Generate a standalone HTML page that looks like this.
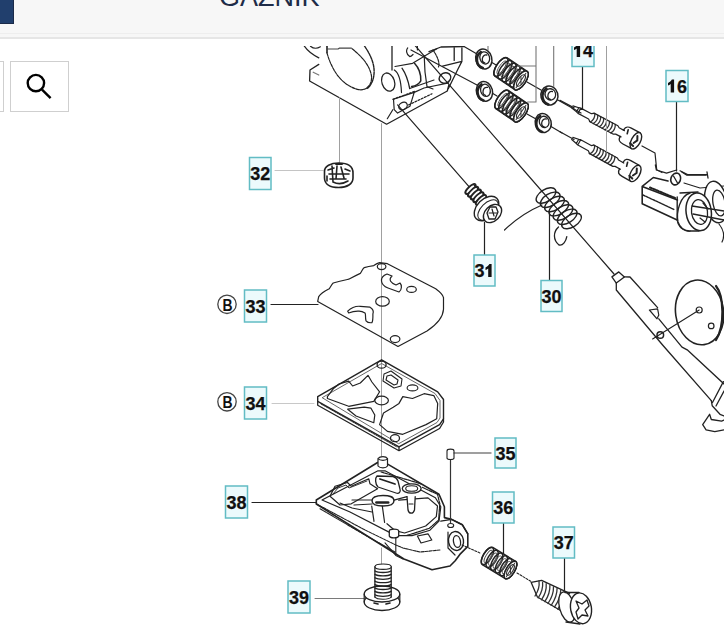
<!DOCTYPE html>
<html><head><meta charset="utf-8">
<style>
html,body{margin:0;padding:0;width:724px;height:639px;overflow:hidden;background:#fff;font-family:"Liberation Sans",sans-serif;}
#hdr{position:absolute;left:0;top:0;width:724px;height:37px;background:#f7f7f7;border-bottom:2px solid #e6e6e6;}
#hl{position:absolute;left:0;top:33px;width:724px;height:1px;background:#eeeeee;}
#navy{position:absolute;left:0;top:0;width:13px;height:23px;background:#213f6d;border-right:1px solid #1b2a48;border-bottom:1px solid #1b2a48;}
#title{position:absolute;left:219px;top:-16px;font-size:27px;color:#1e2c48;line-height:27px;}
.btn{position:absolute;top:61px;height:49px;border:1px solid #cfcfcf;background:#fff;}
</style></head><body>
<div id="hdr"></div><div id="hl"></div>
<div id="navy"></div>
<div id="title">GAZNIK</div>
<div class="btn" style="left:-20px;width:22px;"></div>
<div class="btn" style="left:10px;width:57px;"></div>
<svg style="position:absolute;left:0;top:0" width="724" height="639">
<circle cx="35.9" cy="83.1" r="8.2" fill="none" stroke="#000" stroke-width="2.4"/>
<line x1="42" y1="89.6" x2="50.6" y2="98.2" stroke="#000" stroke-width="2.4"/>
</svg>
<svg style="position:absolute;left:0;top:0" width="724" height="639" viewBox="0 0 724 639">
<defs><clipPath id="cl"><rect x="0" y="46" width="724" height="600"/></clipPath></defs>
<g clip-path="url(#cl)">
<g fill="none" stroke="#222" stroke-width="1.2" stroke-linejoin="round" stroke-linecap="round">
<g id="body">
<path d="M304.4,46.2 Q309,53 318.8,57.8" stroke-width="1.3"/>
<path d="M310.5,46.2 Q314.9,50 320.4,46.8" stroke-width="1.2"/>
<path d="M318.8,64.4 L310,70 L309.6,81 L386.6,124.2 L447.3,91 L448.7,85.5" stroke-width="1.3"/>
<path d="M313.2,72.2 L318.8,75" stroke="#777"/>
<path d="M327,46.2 L327,52.8" stroke-width="1.6"/>
<path d="M327,49 L338,49 L339.2,48.2 L351.4,48.2" stroke="#444"/>
<path d="M327,52.8 C330,64 336,76 345,83 C352,88 358,90.5 363,89.6 C369,88 372,83 371.5,76 C370,67 364,58 351.4,48.2" stroke-dasharray="3,1"/>
<path d="M364.6,46.2 C370,54 375,64 374,74 C373.5,80 371,86 367,88.5" stroke-dasharray="3,1" stroke-width="1.4"/>
<path d="M392,46.2 L392,70" stroke-width="1.3"/>
<ellipse cx="388.2" cy="82.1" rx="6.3" ry="9.3" transform="rotate(-18 388.2 82.1)" stroke-width="1.3"/>
<path d="M394.3,70 C399,73 401,80 401.5,92.6" stroke-width="1.2"/>
<path d="M402,68.2 C406,74 408,80 409.7,88.5" stroke-width="1.3"/>
<path d="M395,66.5 L412.6,63.3 L436.8,48.8" stroke-width="1.2"/>
<path d="M414.5,63.3 C419,68 421,74 420.8,80.8 C419,84 415,86 411.6,86.6" stroke-width="1.5"/>
<path d="M409.7,88.5 L434,80" stroke-width="1.2"/>
<path d="M407.7,47.9 C406,50 406,54 409.7,56.6 C411,56.5 412,55.5 413,54.5 M417.4,46.5 L417.4,50" stroke-width="1.2"/>
<path d="M424.2,55.6 L425,72 L427,86.6 L433,89" stroke-width="1.2"/>
<path d="M429,51.7 L441,47 L463.8,46.5 M454.2,47.9 L454.2,60.4 M461.9,47.9 L461.9,60.4 M442.6,66.2 L461.9,61.4 L458,69 L448.4,88.5" stroke-width="1.3"/>
<path d="M433,50 C437,56 440,62 438.5,67" stroke-width="1.2" stroke-dasharray="2.5,1"/>
<ellipse cx="445" cy="78" rx="6" ry="5" transform="rotate(-25 445 78)" stroke-width="1.4"/>
<path d="M393.5,99.3 L414.2,92.4 L410,106.2 L397.6,113.1 L394.2,109.7 Z" stroke-width="1.2"/>
<ellipse cx="403" cy="106" rx="4.5" ry="3.5" transform="rotate(-30 403 106)" stroke-width="1.3"/>
<path d="M392.8,99.3 L415.6,91 M408.7,104.9 L432,93.8" stroke-dasharray="2,1.5"/>
<path d="M387.3,118.7 L392.8,109.7"/>
<path d="M414.2,92.4 L424,88 L448.7,82.8"/>
</g>
<path d="M412,42 L614,274"/>
<path d="M397.6,104.9 L469,186.6"/>
<path d="M464,46.5 L477,54 M491,62 L497,65.5 M527,82 L541,90 M557,99.5 L581,113"/>
<path d="M411,50 L477,85 M492,93 L497,96 M527,114 L536,119 M551,126.5 L562,133"/>
<ellipse cx="483.8" cy="59" rx="8" ry="10" transform="rotate(-15 483.8 59)" stroke-width="1.5" fill="#fff"/>
<path d="M480.8,52 C474.8,56 475.8,66 482.8,68" stroke-width="2.6"/>
<ellipse cx="485.0" cy="58.2" rx="4.8" ry="6.2" transform="rotate(-15 483.8 59)" stroke-width="1.3"/>
<path d="M486.8,55 C481.8,54 480.8,62 484.8,63" stroke-width="1.3"/>
<ellipse cx="484.5" cy="91.4" rx="8" ry="10" transform="rotate(-15 484.5 91.4)" stroke-width="1.5" fill="#fff"/>
<path d="M481.5,84.4 C475.5,88.4 476.5,98.4 483.5,100.4" stroke-width="2.6"/>
<ellipse cx="485.7" cy="90.60000000000001" rx="4.8" ry="6.2" transform="rotate(-15 484.5 91.4)" stroke-width="1.3"/>
<path d="M487.5,87.4 C482.5,86.4 481.5,94.4 485.5,95.4" stroke-width="1.3"/>
<ellipse cx="549.4" cy="95.5" rx="8.5" ry="9.5" transform="rotate(-15 549.4 95.5)" stroke-width="1.5" fill="#fff"/>
<path d="M546.4,88.5 C540.4,92.5 541.4,102.5 548.4,104.5" stroke-width="2.6"/>
<ellipse cx="550.6" cy="94.7" rx="5.3" ry="5.7" transform="rotate(-15 549.4 95.5)" stroke-width="1.3"/>
<path d="M552.4,91.5 C547.4,90.5 546.4,98.5 550.4,99.5" stroke-width="1.3"/>
<ellipse cx="543.2" cy="123" rx="8" ry="9.5" transform="rotate(-15 543.2 123)" stroke-width="1.5" fill="#fff"/>
<path d="M540.2,116 C534.2,120 535.2,130 542.2,132" stroke-width="2.6"/>
<ellipse cx="544.4000000000001" cy="122.2" rx="4.8" ry="5.7" transform="rotate(-15 543.2 123)" stroke-width="1.3"/>
<path d="M546.2,119 C541.2,118 540.2,126 544.2,127" stroke-width="1.3"/>
<g transform="translate(501,67) rotate(34.0)">
<path d="M0,-11 L24.1,-11 A4.6,11 0 0 1 24.1,11 L0,11 A4.6,11 0 0 1 0,-11 Z" fill="#fff" stroke="#222" stroke-width="1.5"/>
<ellipse cx="0.0" cy="0" rx="4.6" ry="10.7" stroke="#222" stroke-width="1.5"/>
<ellipse cx="0.8" cy="0" rx="2.5" ry="7.7" stroke="#555" stroke-width="0.9"/>
<ellipse cx="4.8" cy="0" rx="4.6" ry="10.7" stroke="#222" stroke-width="1.5"/>
<ellipse cx="5.6" cy="0" rx="2.5" ry="7.7" stroke="#555" stroke-width="0.9"/>
<ellipse cx="9.7" cy="0" rx="4.6" ry="10.7" stroke="#222" stroke-width="1.5"/>
<ellipse cx="10.5" cy="0" rx="2.5" ry="7.7" stroke="#555" stroke-width="0.9"/>
<ellipse cx="14.5" cy="0" rx="4.6" ry="10.7" stroke="#222" stroke-width="1.5"/>
<ellipse cx="15.3" cy="0" rx="2.5" ry="7.7" stroke="#555" stroke-width="0.9"/>
<ellipse cx="19.3" cy="0" rx="4.6" ry="10.7" stroke="#222" stroke-width="1.5"/>
<ellipse cx="20.1" cy="0" rx="2.5" ry="7.7" stroke="#555" stroke-width="0.9"/>
<ellipse cx="24.1" cy="0" rx="4.6" ry="10.7" stroke="#222" stroke-width="1.5"/>
<ellipse cx="24.9" cy="0" rx="2.5" ry="7.7" stroke="#555" stroke-width="0.9"/>
<ellipse cx="24.1" cy="0" rx="4.6" ry="11" fill="#fff" stroke="#222" stroke-width="1.5"/>
<ellipse cx="24.1" cy="0" rx="2.8" ry="6.6" stroke="#333" stroke-width="1.2"/>
<path d="M21.8,-3.3 L26.4,3.3 M24.1,-8.8 L24.1,8.8" stroke="#333" stroke-width="1"/>
</g>
<g transform="translate(502,99.5) rotate(34.4)">
<path d="M0,-11 L23.0,-11 A4.6,11 0 0 1 23.0,11 L0,11 A4.6,11 0 0 1 0,-11 Z" fill="#fff" stroke="#222" stroke-width="1.5"/>
<ellipse cx="0.0" cy="0" rx="4.6" ry="10.7" stroke="#222" stroke-width="1.5"/>
<ellipse cx="0.8" cy="0" rx="2.5" ry="7.7" stroke="#555" stroke-width="0.9"/>
<ellipse cx="4.6" cy="0" rx="4.6" ry="10.7" stroke="#222" stroke-width="1.5"/>
<ellipse cx="5.4" cy="0" rx="2.5" ry="7.7" stroke="#555" stroke-width="0.9"/>
<ellipse cx="9.2" cy="0" rx="4.6" ry="10.7" stroke="#222" stroke-width="1.5"/>
<ellipse cx="10.0" cy="0" rx="2.5" ry="7.7" stroke="#555" stroke-width="0.9"/>
<ellipse cx="13.8" cy="0" rx="4.6" ry="10.7" stroke="#222" stroke-width="1.5"/>
<ellipse cx="14.6" cy="0" rx="2.5" ry="7.7" stroke="#555" stroke-width="0.9"/>
<ellipse cx="18.4" cy="0" rx="4.6" ry="10.7" stroke="#222" stroke-width="1.5"/>
<ellipse cx="19.2" cy="0" rx="2.5" ry="7.7" stroke="#555" stroke-width="0.9"/>
<ellipse cx="23.0" cy="0" rx="4.6" ry="10.7" stroke="#222" stroke-width="1.5"/>
<ellipse cx="23.8" cy="0" rx="2.5" ry="7.7" stroke="#555" stroke-width="0.9"/>
<ellipse cx="23.0" cy="0" rx="4.6" ry="11" fill="#fff" stroke="#222" stroke-width="1.5"/>
<ellipse cx="23.0" cy="0" rx="2.8" ry="6.6" stroke="#333" stroke-width="1.2"/>
<path d="M20.7,-3.3 L25.3,3.3 M23.0,-8.8 L23.0,8.8" stroke="#333" stroke-width="1"/>
</g>
<path d="M560.0,100.4 L574.1,107.9"/>
<path d="M572.9,105.9 L578.8,107.7 L580.8,108.1 L591.4,113.7 L593.9,113.3 M571.8,108.0 L576.5,111.9 L578.0,113.4 L588.6,119.0 L589.7,121.3 M578.8,107.7 L576.5,111.9 M580.8,108.1 L578.0,113.4" stroke-width="1.2"/>
<path d="M594.9,113.5 Q595.1,119.1 590.4,122.0" stroke-width="1.3" stroke="#333"/>
<path d="M597.8,115.1 Q598.1,120.6 593.3,123.6" stroke-width="1.3" stroke="#333"/>
<path d="M600.7,116.6 Q601.0,122.2 596.2,125.1" stroke-width="1.3" stroke="#333"/>
<path d="M603.7,118.2 Q603.9,123.7 599.2,126.7" stroke-width="1.3" stroke="#333"/>
<path d="M606.6,119.7 Q606.8,125.3 602.1,128.2" stroke-width="1.3" stroke="#333"/>
<path d="M609.5,121.3 Q609.7,126.8 605.0,129.8" stroke-width="1.3" stroke="#333"/>
<path d="M612.4,122.8 Q612.6,128.4 607.9,131.3" stroke-width="1.3" stroke="#333"/>
<path d="M615.3,124.4 Q615.5,129.9 610.8,132.9" stroke-width="1.3" stroke="#333"/>
<path d="M594.0,113.1 L617.9,125.7 L619.1,127.7 L624.4,130.6 M589.5,121.5 L613.4,134.2 L615.7,134.1 L621.0,136.9" stroke-width="1.2"/>
<path d="M623.5,130.1 C625.6,126.2 627.8,126.3 631.3,128.1 L640.2,132.8 M620.1,136.4 C618.1,140.3 619.3,142.1 622.9,144.0 L631.7,148.7" stroke-width="1.4"/>
<ellipse cx="635.9" cy="140.8" rx="4.5" ry="9" transform="rotate(28.0 635.9 140.8)" stroke-width="1.4" fill="#fff"/>
<path d="M637.4,135.9 L637.3,140.4 L633.6,143.0 M630.1,143.3 L633.1,146.1" stroke-width="2"/>
<path d="M628.2,129.8 L627.2,133.8" stroke-width="1.6"/>
<path d="M560.0,131.7 L574.0,139.5"/>
<path d="M572.8,137.4 L578.7,139.3 L580.7,139.7 L591.2,145.6 L593.7,145.2 M571.7,139.5 L576.3,143.5 L577.8,145.0 L588.3,150.8 L589.3,153.1 M578.7,139.3 L576.3,143.5 M580.7,139.7 L577.8,145.0" stroke-width="1.2"/>
<path d="M594.7,145.4 Q594.8,151.0 590.0,153.8" stroke-width="1.3" stroke="#333"/>
<path d="M597.6,147.0 Q597.7,152.6 592.9,155.4" stroke-width="1.3" stroke="#333"/>
<path d="M600.5,148.6 Q600.6,154.2 595.8,157.0" stroke-width="1.3" stroke="#333"/>
<path d="M603.3,150.2 Q603.5,155.8 598.7,158.6" stroke-width="1.3" stroke="#333"/>
<path d="M606.2,151.8 Q606.4,157.4 601.6,160.2" stroke-width="1.3" stroke="#333"/>
<path d="M609.1,153.4 Q609.2,159.0 604.5,161.8" stroke-width="1.3" stroke="#333"/>
<path d="M612.0,155.0 Q612.1,160.6 607.4,163.4" stroke-width="1.3" stroke="#333"/>
<path d="M614.9,156.6 Q615.0,162.2 610.2,165.0" stroke-width="1.3" stroke="#333"/>
<path d="M593.8,145.0 L617.4,158.0 L618.6,160.1 L623.8,163.0 M589.2,153.4 L612.8,166.4 L615.1,166.4 L620.4,169.3" stroke-width="1.2"/>
<path d="M623.0,162.5 C625.1,158.6 627.3,158.7 630.8,160.7 L639.6,165.5 M619.5,168.8 C617.3,172.6 618.6,174.5 622.1,176.4 L630.9,181.3" stroke-width="1.4"/>
<ellipse cx="635.2" cy="173.4" rx="4.5" ry="9" transform="rotate(29.0 635.2 173.4)" stroke-width="1.4" fill="#fff"/>
<path d="M636.8,168.5 L636.6,173.0 L632.9,175.5 M629.3,175.8 L632.3,178.6" stroke-width="2"/>
<path d="M627.6,162.3 L626.6,166.3" stroke-width="1.6"/>
<path d="M582.5,66 L582.5,109.3"/>
<path d="M676.5,101.5 L676.5,171"/>
<path d="M484.5,222.4 L484.5,255"/>
<path d="M549.5,211.8 L549.5,280.5"/>
<path d="M271,304.5 L318,304.5"/>
<path d="M252,502.5 L318,502.5"/>
<path d="M503.5,523 L503.5,555"/>
<path d="M564.5,558 L564.5,591"/>
<path d="M454,453 L491,453" stroke="#808080" stroke-width="1.4"/>
<path d="M642,146 L655,153 L656.7,169.7 L662,172.5"/>
<path d="M680,170.8 L687.6,174.6 L707,174.6"/>
<path d="M536,46 L536,102 M517.7,66 L536,66 M527.6,102 L536,102" stroke="#777" stroke-width="1.1"/>
<path d="M553.7,46 L553.7,86.5 M488,46 L488,50" stroke="#777" stroke-width="1.1"/>
<g stroke="#a0a0a0" stroke-width="1">
<path d="M339.5,97.7 L339.5,164"/>
<path d="M381.5,123.6 L381.5,458 M381.5,548 L381.5,569"/>
<path d="M275,170.5 L323,170.5" stroke="#c4c4c4"/>
<path d="M272,403.5 L314,403.5" stroke="#c8c8c8"/>
<path d="M315,598.5 L364.2,598.5" stroke="#7a7a7a"/>
<path d="M606.5,46 L606.5,152"/>
</g>
<path d="M324.5,172 C324,166 331,163 338.7,163 C347,163 353,166 353,173 L353,178 C353,184 347,187.5 338.7,187.5 C330,187.5 324.5,184 324.5,178 Z" stroke-width="1.6" fill="#fff"/>
<path d="M328,170 L334,168 M329,174 L349,174 M332,166 L333,182 M337,166 L336,179 M341,167 L344,178 M330,179 L346,179 M333,182 C337,184 343,184 348,181 M345,169 L350,171 M327,176 L327,181" stroke-width="1.6"/>
<path d="M336,164 L342,164" stroke-width="2"/>
<path d="M469,186.6 L472,190"/>
<ellipse cx="470.5" cy="189.0" rx="2.4" ry="6.8" transform="rotate(46.3 470.5 189.0)" stroke="#222" stroke-width="1.8" fill="#fff"/>
<ellipse cx="473.1" cy="191.8" rx="2.4" ry="6.8" transform="rotate(46.3 473.1 191.8)" stroke="#222" stroke-width="1.8" fill="#fff"/>
<ellipse cx="475.8" cy="194.5" rx="2.4" ry="6.8" transform="rotate(46.3 475.8 194.5)" stroke="#222" stroke-width="1.8" fill="#fff"/>
<ellipse cx="478.4" cy="197.2" rx="2.4" ry="6.8" transform="rotate(46.3 478.4 197.2)" stroke="#222" stroke-width="1.8" fill="#fff"/>
<ellipse cx="481.0" cy="200.0" rx="2.4" ry="6.8" transform="rotate(46.3 481.0 200.0)" stroke="#222" stroke-width="1.8" fill="#fff"/>
<path d="M466,193 L476,203 M474,185 L485,195" stroke-width="1.1"/>
<ellipse cx="486.5" cy="208.5" rx="9.5" ry="14.5" transform="rotate(45 486.5 208.5)" stroke-width="1.4" fill="#fff"/>
<ellipse cx="488" cy="210" rx="7" ry="12.5" transform="rotate(45 488 210)" stroke-width="1"/>
<ellipse cx="492.5" cy="213.5" rx="7.5" ry="10.5" transform="rotate(45 492.5 213.5)" stroke-width="1.4" fill="#fff"/>
<path d="M490,207 L496,207 L498,212 L495,219 L489,219 L487,213 Z" stroke-width="1.3"/>
<path d="M492,209 L494,216 M489,213 L497,213" stroke-width="1.2"/>
<path d="M504.5,230 C515,220 528,211 542,205"/>
<ellipse cx="546.0" cy="195.5" rx="11" ry="6" transform="rotate(-32 546.0 195.5)" stroke-width="1.4"/>
<ellipse cx="550.2" cy="199.8" rx="11" ry="6" transform="rotate(-32 550.2 199.8)" stroke-width="1.4"/>
<ellipse cx="554.5" cy="204.0" rx="11" ry="6" transform="rotate(-32 554.5 204.0)" stroke-width="1.4"/>
<ellipse cx="558.8" cy="208.2" rx="11" ry="6" transform="rotate(-32 558.8 208.2)" stroke-width="1.4"/>
<ellipse cx="563.0" cy="212.5" rx="11" ry="6" transform="rotate(-32 563.0 212.5)" stroke-width="1.4"/>
<ellipse cx="567.2" cy="216.8" rx="11" ry="6" transform="rotate(-32 567.2 216.8)" stroke-width="1.4"/>
<ellipse cx="571.5" cy="221.0" rx="11" ry="6" transform="rotate(-32 571.5 221.0)" stroke-width="1.4"/>
<path d="M558.5,227 C553,232 553,240 559,245 C563,246 566,241 566.8,236.6" stroke-width="1.3"/>
<path d="M611.9,276.9 L618.8,271.9 L624.4,276.9 L616.3,283.1 Z" stroke-width="1.3"/>
<path d="M624.4,276.9 L630,277 L657.6,307.6 M616.3,283.1 L616.3,290 L662.6,345 L711.3,400.6" stroke-width="1.3"/>
<path d="M649.4,310 L657.6,308.8 L658.8,315 L657,318.8 Z" stroke-width="1.2"/>
<path d="M658.8,318.8 L682,347.1 L687.2,349.8 L724,384" stroke-width="1.3"/>
<circle cx="660.3" cy="335" r="3.3" stroke-width="1.5"/>
<path d="M652.6,339 L699.2,310" stroke-width="1.1"/>
<ellipse cx="699.6" cy="312.4" rx="24" ry="32.5" transform="rotate(-8 699.6 312.4)" stroke-width="1.6" fill="none"/>
<path d="M716,286 C724,296 725,326 716,340" stroke-width="2.2"/>
<circle cx="699.2" cy="310" r="3" stroke-width="1.2"/><circle cx="711.2" cy="325.9" r="2.8" stroke-width="1.2"/>
<path d="M711.3,400.6 L712.2,405.7 L720,414.3 L724,416 M712.5,402.5 L723.4,381.6 M716,406 L724,391" stroke-width="1.3"/>
<path d="M709.6,414.3 L702.7,424.7 L706.1,429.8 L714.8,431.6 L724,429.8 M709.6,414.3 L711.3,419.5 L721.6,421.2 L724,420" stroke-width="1.3"/>
<path d="M642.2,186.4 L653.3,177.5 L668,181 M642.2,186.4 L677.5,200 M642.2,186.4 L642.2,203.7 L677.2,220" stroke-width="1.6"/>
<path d="M643,195 L674,209.5" stroke-width="1.4" stroke-dasharray="2.5,1"/>
<path d="M650,187.5 L675,198" stroke-width="2" stroke-dasharray="2.2,1.4"/>
<path d="M655.4,165 L656.4,170 L666.5,173.1 L676.7,170 M681.8,172 L686.9,175.2 L706,175.2 M707,172 L708,178" stroke-width="1.3"/>
<path d="M684,183 L700,188 L724,186" stroke-width="1.2"/>
<ellipse cx="716" cy="202" rx="11" ry="21" transform="rotate(-10 716 202)" stroke-width="1.4" fill="#fff"/>
<ellipse cx="719" cy="203" rx="6" ry="13" transform="rotate(-10 719 203)" stroke-width="1.3"/>
<path d="M677.2,197 L677.2,220 C678,226 682,230 688,231 L699,231 M680,193 L698,192" stroke-width="1.4"/>
<path d="M690,193 C680,196 676,212 678,222 C680,228 684,231 690,231" stroke-width="1.4" fill="#fff"/>
<ellipse cx="698.7" cy="211.8" rx="12.6" ry="19" transform="rotate(-8 698.7 211.8)" stroke-width="1.5" fill="#fff"/>
<ellipse cx="699.5" cy="212" rx="8" ry="12.5" transform="rotate(-8 699.5 212)" stroke-width="1.3"/>
<path d="M692,206 L724,211 M693,214 L724,220" stroke-width="1.3"/>
<path d="M703,203 L708,209 M700,218 L705,222" stroke-width="1.2"/>
<ellipse cx="675.7" cy="179" rx="4.8" ry="6" transform="rotate(20 675.7 179)" stroke-width="1.6" fill="#fff"/>
<path d="M673.5,176 L677.5,183" stroke-width="1.3"/>
<path d="M719,224 C723,229 725,236 722,242" stroke-width="1.2"/>
<path d="M317.7,301.4 L318.7,296.6 C322,292 327,290 329.3,288.8 C331,286 332,284 333.2,283 C340,281 345,280 348.7,279.2 C353,277 357,275 360.3,273.4 C362,271 363,268 364.2,267.6 C368,266.5 371,266 373.8,265.6 C376,264 378,263 379.6,262.7 L387.4,263.7 L435.7,288.8 C440,292 443,295 443.5,297.6 L443.5,309.2 C443,318 436,325 427,331 L398,346.5 Z" stroke-width="1.2"/>
<ellipse cx="381.6" cy="266.6" rx="4.3" ry="3"/><ellipse cx="411.5" cy="289.4" rx="4.8" ry="3"/><ellipse cx="382.5" cy="301.4" rx="6.8" ry="4.8"/><ellipse cx="395.1" cy="339.1" rx="4.8" ry="3.5"/>
<path d="M387,274 C379,277 380,285 388,288 L399,292 C402,290 402,285 400,283 L396,285 C391,283 388,280 392,276 Z"/>
<path d="M347.7,311.1 C352,307 357,306 360.3,306.3 L370,307.2 C373,309 374,311 372.9,314 C373,318 373,321 371.9,322.7 C369,323 367,322 366,320.8 C365,317 366,314 365,313 C362,311 360,311 358.4,311.1 C354,311 351,312 348.7,313 Z"/>
<path d="M317.7,396.6 L381.6,359.8 L437.7,391.8 L443.5,399.5 L443.5,418.8 L439.6,424.6 L399,446.9 L317.7,401.4 Z" stroke-width="1.4" fill="none"/>
<path d="M317.7,401.4 L317.7,405.3 L399,450.7 L439.6,428.5 L443.5,422 L443.5,418.8 M399,446.9 L399,450.7" stroke-width="1.3"/>
<path d="M321,404 L397,447" stroke-width="0.9" stroke-dasharray="2,1"/>
<path d="M322.5,397.5 L381.6,363.5 L435,393.5 L440,400.5 L440,418 L437,422.5 L399,443.5 Z" stroke-width="0.9" stroke="#555"/>
<path d="M327.4,396.6 L333.2,388.8 L339,384 L348.7,381.1 L352.6,386 L360.3,383 L368,375.3 L371.9,382 L379.6,391.8 L373.8,401.4 L348.7,406.3 L327.4,398.5 Z" stroke-width="1.2"/>
<path d="M347.7,409.2 L364.2,407.2 L371,408.2 L374.8,415 L373.8,422.7 L356,416 Z" stroke-width="1.2"/>
<path d="M379.6,424.6 L383.5,413 L393.2,407.2 L399,403.4 L402.8,396.6 L412.5,398.5 L424.1,393.7 L433.8,395.6 L437.7,403.4 L436.7,418.8 L426,424.6 L402.8,434.3 L387.4,431.4 Z" stroke-width="1.2"/>
<path d="M384,374 L391,371 L402,379 L401,386 L394,388 L383,381 Z M387,376 L391,375 L398,380 L397,384 L394,385 L386,380 Z" stroke-width="1.1"/>
<ellipse cx="412.5" cy="387.9" rx="5.4" ry="3" stroke-width="1.1"/><ellipse cx="381.6" cy="400.5" rx="6.8" ry="4.3" stroke-width="1.2"/><ellipse cx="381.6" cy="364.7" rx="4.5" ry="3.5" stroke-width="1.3"/><ellipse cx="395" cy="438.2" rx="4.5" ry="3.5" stroke-width="1.3"/>
<path d="M316.3,500 L377.6,462.5 L386.8,463.6 L439,494.2 L444.4,506.8 L444.4,517.6 L451.6,519.4 L462.4,524.8 L467.8,533.8 L467.8,546.4 L460.6,553.6 L455.2,560.8 L450,566 L432,569.7 L403.9,559 L316.3,504 Z" stroke-width="1.6" fill="#fff"/>
<path d="M378,458.5 L378,466 C380,468.5 386,468.5 387.5,466 L387.5,458.5 C386,456 380,456 378,458.5 Z M378,458.5 C380,461 386,461 387.5,458.5" stroke-width="1.2" fill="#fff"/>
<path d="M322,500 L378,470.8 L385,470.8 L435.4,497.8 L440.8,506.8 L439,521.2 L430,530.2 L412,535.6 L395.8,535.6 L350,512 Z" stroke-width="1.2"/>
<path d="M316.3,503.8 L365,530 L395.8,545 L403,548 L420,552 L440,550 M320,508.8 L365,535 L395,552" stroke-width="1.1" stroke-dasharray="3,1"/>
<path d="M395.8,535.6 L395.8,555.4 M385,542.8 L395.8,555.4 L403,559" stroke-width="1.1"/>
<path d="M330,496.3 L335,486.3 L347.5,482.5 L351.3,486.3 L368.8,478.8 L370,483.8 L377.6,488.8 L351.3,503.8 L340,505 Z" stroke-width="1.2"/>
<path d="M333,494 L338,488 L346,485 L349,488 L367,481" stroke-width="0.9"/>
<path d="M381.1,472 L421,483.8 M422.2,487.3 L437.5,494.3 L439.8,503.7 L438.6,520.2 L429.2,528.4 L407,535.4" stroke-width="1.2" stroke-dasharray="3,1"/>
<path d="M377,476 C375,478 375,484 378,487 L396,493 C399,494 401,492 400,489 L398,481 C397,478 395,477 393,476.5 Z" stroke-width="1.3"/>
<path d="M380,479 L395,484" stroke-width="1.8"/>
<ellipse cx="411.7" cy="488.5" rx="9.4" ry="4.7" stroke-width="1.3" fill="#fff"/>
<ellipse cx="411.7" cy="488.5" rx="6" ry="2.8" stroke-width="1.1"/>
<path d="M372,500.8 C372,496 378,495.5 383,495.5 C389,495.5 394,496 394,500.8 C394,505 389,506 383,506 C377,506 372,505 372,500.8 Z" stroke-width="1.4" fill="#fff"/>
<path d="M376.4,502.5 L388.2,502.5" stroke-width="2.6"/>
<path d="M371.7,506 L374,521.3 M382.3,506 L384.6,522.5 M352,500 L372,500 M354,505 L372,504 M394,500.2 L407,496.7" stroke-width="1.2"/>
<path d="M398.7,500.2 L428,497.9 L437.5,506 L436.3,516.6 L425.7,526 L404.6,533 L395.2,530.7 L387,523.7" stroke-width="1.2"/>
<path d="M407,496.7 L408,510 C409,514 413,514.5 414.5,510 L415.2,496.7" stroke-width="1.3" fill="#fff"/>
<path d="M409,504 L413,504" stroke-width="1.1"/>
<path d="M389.3,531 C389,528.5 398.7,528.5 398.7,531 L398.7,536 C398,538.5 390,538.5 389.3,536 Z" stroke-width="1.3" fill="#fff"/>
<path d="M352,508 L372,512 M340,503 L352,508" stroke-width="1.1"/>
<path d="M417.4,536 L428,533.8 L431.8,540 L421,543 Z" stroke-width="1.2"/>
<path d="M440.8,521.2 L451.6,519.4 L462.4,524.8 L467.8,533.8" stroke-width="1.3"/>
<ellipse cx="456" cy="541" rx="7.5" ry="9.5" transform="rotate(-10 456 541)" stroke-width="1.4" fill="#fff"/>
<ellipse cx="457" cy="541.5" rx="3.5" ry="6" transform="rotate(-10 457 541.5)" stroke-width="1.3"/>
<path d="M448,532 L448,548 L455,555" stroke-width="1.2"/>
<ellipse cx="450.7" cy="525.5" rx="3" ry="2" stroke-width="1.1"/>
<path d="M450.5,459.5 L450.5,523" stroke="#333" stroke-width="1.2"/>
<path d="M447,451 L447,458 C447,460 454,460 454,458 L454,451 C454,448.5 447,448.5 447,451 Z" stroke-width="1.1"/>
<path d="M462,545 L480,553 M517,573 L532,582" stroke-dasharray="2,1.5" stroke-width="1.1"/>
<g transform="translate(487.5,556) rotate(31.3)">
<path d="M0,-10 L26.9,-10 A4.2,10 0 0 1 26.9,10 L0,10 A4.2,10 0 0 1 0,-10 Z" fill="#fff" stroke="#222" stroke-width="1.5"/>
<ellipse cx="0.0" cy="0" rx="4.2" ry="9.7" stroke="#222" stroke-width="1.5"/>
<ellipse cx="0.8" cy="0" rx="2.3" ry="7.0" stroke="#555" stroke-width="0.9"/>
<ellipse cx="5.4" cy="0" rx="4.2" ry="9.7" stroke="#222" stroke-width="1.5"/>
<ellipse cx="6.2" cy="0" rx="2.3" ry="7.0" stroke="#555" stroke-width="0.9"/>
<ellipse cx="10.8" cy="0" rx="4.2" ry="9.7" stroke="#222" stroke-width="1.5"/>
<ellipse cx="11.6" cy="0" rx="2.3" ry="7.0" stroke="#555" stroke-width="0.9"/>
<ellipse cx="16.2" cy="0" rx="4.2" ry="9.7" stroke="#222" stroke-width="1.5"/>
<ellipse cx="17.0" cy="0" rx="2.3" ry="7.0" stroke="#555" stroke-width="0.9"/>
<ellipse cx="21.5" cy="0" rx="4.2" ry="9.7" stroke="#222" stroke-width="1.5"/>
<ellipse cx="22.3" cy="0" rx="2.3" ry="7.0" stroke="#555" stroke-width="0.9"/>
<ellipse cx="26.9" cy="0" rx="4.2" ry="9.7" stroke="#222" stroke-width="1.5"/>
<ellipse cx="27.7" cy="0" rx="2.3" ry="7.0" stroke="#555" stroke-width="0.9"/>
<ellipse cx="26.9" cy="0" rx="4.2" ry="10" fill="#fff" stroke="#222" stroke-width="1.5"/>
<ellipse cx="26.9" cy="0" rx="2.5" ry="6.0" stroke="#333" stroke-width="1.2"/>
<path d="M24.8,-3.0 L29.0,3.0 M26.9,-8.0 L26.9,8.0" stroke="#333" stroke-width="1"/>
</g>
<path d="M531.2,582.4 L541.6,580.4 L569.6,593.3 M531.2,582.4 L537.4,597 L562.3,611.5" stroke-width="1.3"/>
<path d="M539.0,580.8 Q540.0,588.4 535.0,596.0" stroke-width="1.3" stroke="#333"/>
<path d="M542.6,582.3 Q543.4,590.1 538.2,597.9" stroke-width="1.3" stroke="#333"/>
<path d="M546.2,583.7 Q546.9,591.7 541.5,599.8" stroke-width="1.3" stroke="#333"/>
<path d="M549.9,585.2 Q550.3,593.4 544.8,601.6" stroke-width="1.3" stroke="#333"/>
<path d="M553.5,586.6 Q553.8,595.1 548.0,603.5" stroke-width="1.3" stroke="#333"/>
<path d="M557.1,588.1 Q557.2,596.7 551.2,605.4" stroke-width="1.3" stroke="#333"/>
<path d="M560.8,589.6 Q560.6,598.4 554.5,607.2" stroke-width="1.3" stroke="#333"/>
<path d="M564.4,591.0 Q564.1,600.1 557.8,609.1" stroke-width="1.3" stroke="#333"/>
<path d="M568.0,592.5 Q567.5,601.8 561.0,611.0" stroke-width="1.3" stroke="#333"/>
<ellipse cx="567" cy="607" rx="7.5" ry="15.5" transform="rotate(-15 567 607)" stroke-width="1.3" fill="#fff"/>
<path d="M565,592.5 L579,592.5 M566,622 L580,624" stroke-width="1.3"/>
<ellipse cx="581" cy="608.3" rx="10.4" ry="15.5" transform="rotate(-10 581 608.3)" stroke-width="1.4" fill="#fff"/>
<path d="M576,601 L582,604 L587,600 L589,606 L585,610 L588,616 L582,615 L578,619 L576,612 L579,608 Z" stroke-width="1.3"/>
<ellipse cx="382" cy="602" rx="17.8" ry="8.5" stroke-width="1.3" fill="#fff"/>
<ellipse cx="382" cy="594" rx="17.8" ry="8" stroke-width="1.3" fill="#fff"/>
<path d="M364.2,594 L364.2,602 M399.8,594 L399.8,602" stroke-width="1.2"/>
<path d="M374.9,566.7 L374.9,597 M391.2,566.7 L391.2,597" stroke-width="1.3"/>
<path d="M374.9,597 C377,600 389,600 391.2,597" stroke-width="1.2"/>
<ellipse cx="383.1" cy="566.7" rx="8.1" ry="2.7" stroke-width="1.1" fill="#fff"/>
<path d="M375,571.0 C378,573.0 388,573.0 391,571.0" stroke-width="1.3"/>
<path d="M375,574.4 C378,576.4 388,576.4 391,574.4" stroke-width="1.3"/>
<path d="M375,577.8 C378,579.8 388,579.8 391,577.8" stroke-width="1.3"/>
<path d="M375,581.2 C378,583.2 388,583.2 391,581.2" stroke-width="1.3"/>
<path d="M375,584.6 C378,586.6 388,586.6 391,584.6" stroke-width="1.3"/>
<path d="M375,588.0 C378,590.0 388,590.0 391,588.0" stroke-width="1.3"/>
<path d="M375,591.4 C378,593.4 388,593.4 391,591.4" stroke-width="1.3"/>
<path d="M375,594.8 C378,596.8 388,596.8 391,594.8" stroke-width="1.3"/>
<path d="M374,603 L378,604 M386,604 L390,603" stroke-width="1.6"/>
</g>
<rect x="572" y="34.5" width="22" height="32" fill="#ecfafc"/>
<rect x="572" y="34.5" width="22" height="32" fill="none" stroke="#62bcc4" stroke-width="1.5"/>
<path d="M576.7,57.0 L576.7,48.4 C575.8,49.2 574.9,49.6 574.0,49.9 L574.0,47.4 C575.6,46.7 577.2,45.5 577.9,44.0 L580.1,44.0 L580.1,57.0 Z" fill="#111"/>
<text x="588.0" y="57.0" font-family="Liberation Sans" font-weight="bold" font-size="18" fill="#111" stroke="#111" stroke-width="0.25" text-anchor="middle">4</text>
<rect x="666" y="70.5" width="22" height="31" fill="#ecfafc"/>
<rect x="666" y="70.5" width="22" height="31" fill="none" stroke="#62bcc4" stroke-width="1.5"/>
<path d="M670.7,92.5 L670.7,83.9 C669.8,84.7 668.9,85.1 668.0,85.4 L668.0,82.9 C669.6,82.2 671.2,81.0 671.9,79.5 L674.1,79.5 L674.1,92.5 Z" fill="#111"/>
<text x="682.0" y="92.5" font-family="Liberation Sans" font-weight="bold" font-size="18" fill="#111" stroke="#111" stroke-width="0.25" text-anchor="middle">6</text>
<rect x="541" y="280.5" width="21" height="31" fill="#ecfafc"/>
<rect x="541" y="280.5" width="21" height="31" fill="none" stroke="#62bcc4" stroke-width="1.5"/>
<text x="546.5" y="302.5" font-family="Liberation Sans" font-weight="bold" font-size="18" fill="#111" stroke="#111" stroke-width="0.25" text-anchor="middle">3</text>
<text x="556.5" y="302.5" font-family="Liberation Sans" font-weight="bold" font-size="18" fill="#111" stroke="#111" stroke-width="0.25" text-anchor="middle">0</text>
<rect x="474" y="255" width="21" height="31" fill="#ecfafc"/>
<rect x="474" y="255" width="21" height="31" fill="none" stroke="#62bcc4" stroke-width="1.5"/>
<text x="479.5" y="277.0" font-family="Liberation Sans" font-weight="bold" font-size="18" fill="#111" stroke="#111" stroke-width="0.25" text-anchor="middle">3</text>
<path d="M488.2,277.0 L488.2,268.4 C487.3,269.2 486.4,269.6 485.5,269.9 L485.5,267.4 C487.1,266.7 488.7,265.5 489.4,264.0 L491.6,264.0 L491.6,277.0 Z" fill="#111"/>
<rect x="249.5" y="157.5" width="21.5" height="32" fill="#ecfafc"/>
<rect x="249.5" y="157.5" width="21.5" height="32" fill="none" stroke="#62bcc4" stroke-width="1.5"/>
<text x="255.2" y="180.0" font-family="Liberation Sans" font-weight="bold" font-size="18" fill="#111" stroke="#111" stroke-width="0.25" text-anchor="middle">3</text>
<text x="265.2" y="180.0" font-family="Liberation Sans" font-weight="bold" font-size="18" fill="#111" stroke="#111" stroke-width="0.25" text-anchor="middle">2</text>
<rect x="244.5" y="290" width="22" height="32" fill="#ecfafc"/>
<rect x="244.5" y="290" width="22" height="32" fill="none" stroke="#62bcc4" stroke-width="1.5"/>
<text x="250.5" y="312.5" font-family="Liberation Sans" font-weight="bold" font-size="18" fill="#111" stroke="#111" stroke-width="0.25" text-anchor="middle">3</text>
<text x="260.5" y="312.5" font-family="Liberation Sans" font-weight="bold" font-size="18" fill="#111" stroke="#111" stroke-width="0.25" text-anchor="middle">3</text>
<rect x="244.5" y="387" width="22" height="32" fill="#ecfafc"/>
<rect x="244.5" y="387" width="22" height="32" fill="none" stroke="#62bcc4" stroke-width="1.5"/>
<text x="250.5" y="409.5" font-family="Liberation Sans" font-weight="bold" font-size="18" fill="#111" stroke="#111" stroke-width="0.25" text-anchor="middle">3</text>
<text x="260.5" y="409.5" font-family="Liberation Sans" font-weight="bold" font-size="18" fill="#111" stroke="#111" stroke-width="0.25" text-anchor="middle">4</text>
<rect x="495" y="438" width="21" height="30" fill="#ecfafc"/>
<rect x="495" y="438" width="21" height="30" fill="none" stroke="#62bcc4" stroke-width="1.5"/>
<text x="500.5" y="459.5" font-family="Liberation Sans" font-weight="bold" font-size="18" fill="#111" stroke="#111" stroke-width="0.25" text-anchor="middle">3</text>
<text x="510.5" y="459.5" font-family="Liberation Sans" font-weight="bold" font-size="18" fill="#111" stroke="#111" stroke-width="0.25" text-anchor="middle">5</text>
<rect x="492.5" y="492" width="21.5" height="31" fill="#ecfafc"/>
<rect x="492.5" y="492" width="21.5" height="31" fill="none" stroke="#62bcc4" stroke-width="1.5"/>
<text x="498.2" y="514.0" font-family="Liberation Sans" font-weight="bold" font-size="18" fill="#111" stroke="#111" stroke-width="0.25" text-anchor="middle">3</text>
<text x="508.2" y="514.0" font-family="Liberation Sans" font-weight="bold" font-size="18" fill="#111" stroke="#111" stroke-width="0.25" text-anchor="middle">6</text>
<rect x="553" y="527" width="21.5" height="31" fill="#ecfafc"/>
<rect x="553" y="527" width="21.5" height="31" fill="none" stroke="#62bcc4" stroke-width="1.5"/>
<text x="558.8" y="549.0" font-family="Liberation Sans" font-weight="bold" font-size="18" fill="#111" stroke="#111" stroke-width="0.25" text-anchor="middle">3</text>
<text x="568.8" y="549.0" font-family="Liberation Sans" font-weight="bold" font-size="18" fill="#111" stroke="#111" stroke-width="0.25" text-anchor="middle">7</text>
<rect x="225.5" y="486" width="22" height="32" fill="#ecfafc"/>
<rect x="225.5" y="486" width="22" height="32" fill="none" stroke="#62bcc4" stroke-width="1.5"/>
<text x="231.5" y="508.5" font-family="Liberation Sans" font-weight="bold" font-size="18" fill="#111" stroke="#111" stroke-width="0.25" text-anchor="middle">3</text>
<text x="241.5" y="508.5" font-family="Liberation Sans" font-weight="bold" font-size="18" fill="#111" stroke="#111" stroke-width="0.25" text-anchor="middle">8</text>
<rect x="288" y="581" width="22" height="32" fill="#ecfafc"/>
<rect x="288" y="581" width="22" height="32" fill="none" stroke="#62bcc4" stroke-width="1.5"/>
<text x="294.0" y="603.5" font-family="Liberation Sans" font-weight="bold" font-size="18" fill="#111" stroke="#111" stroke-width="0.25" text-anchor="middle">3</text>
<text x="304.0" y="603.5" font-family="Liberation Sans" font-weight="bold" font-size="18" fill="#111" stroke="#111" stroke-width="0.25" text-anchor="middle">9</text>
<g stroke="#444" stroke-width="1.3" fill="#fff">
<circle cx="227" cy="304.3" r="9.2"/>
<circle cx="227" cy="401.8" r="9.2"/>
</g>
<g font-family="Liberation Sans" font-weight="bold" font-size="17" fill="#111" text-anchor="middle">
<text x="0" y="0" transform="translate(227.5 310.8) scale(0.82 1)">B</text>
<text x="0" y="0" transform="translate(227.5 408.3) scale(0.82 1)">B</text>
</g>
</g>
</svg>
</body></html>
